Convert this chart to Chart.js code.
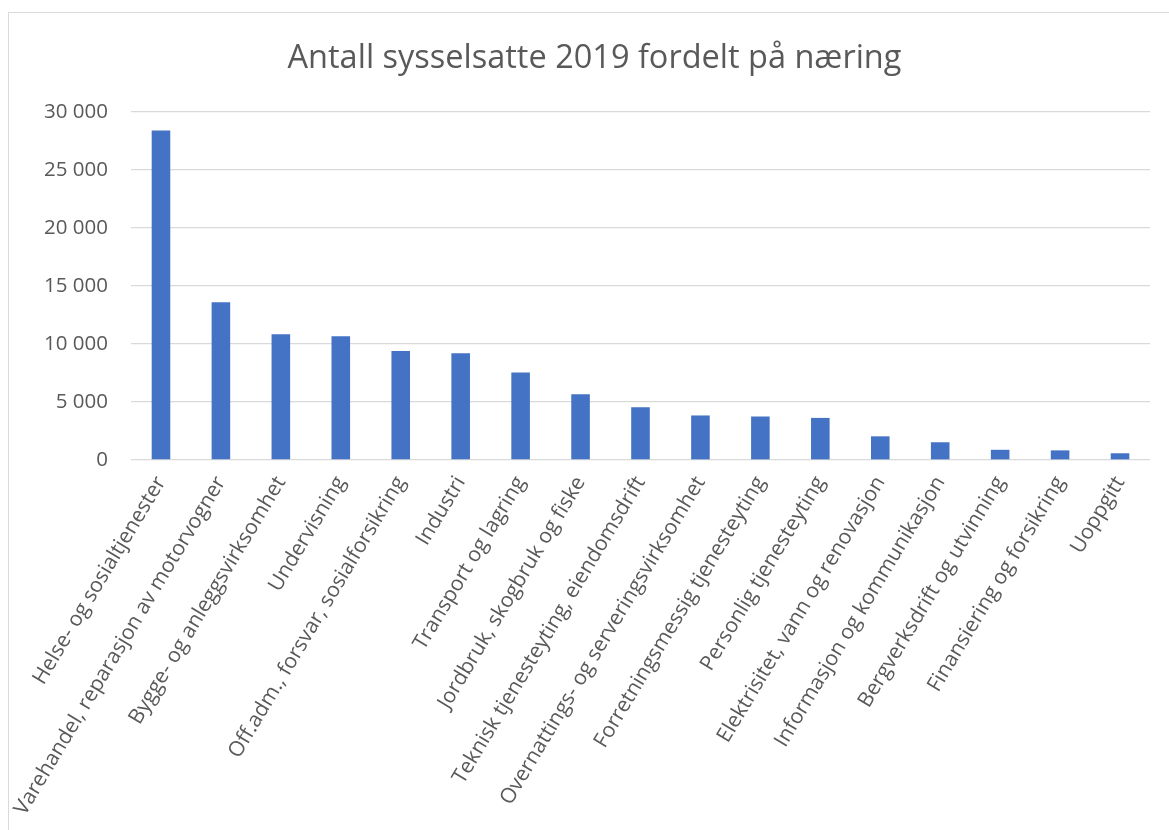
<!DOCTYPE html>
<html>
<head>
<meta charset="utf-8">
<script src="https://cdn.jsdelivr.net/npm/chart.js@4"></script>
<style>
  html, body { margin: 0; padding: 0; background: #fff; }
  #wrap { position: relative; width: 1169px; height: 830px; overflow: hidden; }
  #frame { position: absolute; left: 8px; top: 12px; right: -2px; bottom: -2px;
           border-top: 1.5px solid #d9d9d9; border-left: 1.5px solid #d9d9d9; }
  canvas { position: absolute; left: 0; top: 0; }
</style>
</head>
<body>
<div id="wrap">
  <div id="frame"></div>
  <canvas id="chart" width="1169" height="830"></canvas>
</div>
<script>
const titleText = 'Antall sysselsatte 2019 fordelt på næring';

const categories = [
  'Helse- og sosialtjenester',
  'Varehandel, reparasjon av motorvogner',
  'Bygge- og anleggsvirksomhet',
  'Undervisning',
  'Off.adm., forsvar, sosialforsikring',
  'Industri',
  'Transport og lagring',
  'Jordbruk, skogbruk og fiske',
  'Teknisk tjenesteyting, eiendomsdrift',
  'Overnattings- og serveringsvirksomhet',
  'Forretningsmessig tjenesteyting',
  'Personlig tjenesteyting',
  'Elektrisitet, vann og renovasjon',
  'Informasjon og kommunikasjon',
  'Bergverksdrift og utvinning',
  'Finansiering og forsikring',
  'Uoppgitt'
];

const employed = [28400, 13600, 10850, 10670, 9400, 9200, 7550, 5670, 4550, 3840, 3750, 3630, 2040, 1530, 880, 830, 580];

const yTicks = [0, 5000, 10000, 15000, 20000, 25000, 30000];

const grey = '#595959';
Chart.defaults.font.family = '"Open Sans", sans-serif';
Chart.defaults.color = grey;

function fmt(v) {
  return String(v).replace(/\B(?=(\d{3})+(?!\d))/g, ' ');
}

new Chart(document.getElementById('chart'), {
  type: 'bar',
  data: {
    labels: categories,
    datasets: [{
      data: employed,
      backgroundColor: '#4472c4',
      barPercentage: 0.31,
      categoryPercentage: 1
    }]
  },
  options: {
    responsive: false,
    animation: false,
    // left padding only nudges the title centre to where the original has it
    layout: { padding: { left: 39, right: 19, top: 0, bottom: 0 } },
    plugins: {
      legend: { display: false },
      tooltip: { enabled: false },
      title: {
        display: true,
        text: titleText,
        color: grey,
        font: { size: 32.5, weight: 'normal' },
        padding: { top: 39, bottom: 34 }
      }
    },
    scales: {
      x: {
        grid: { display: false },
        border: { display: false },
        ticks: {
          autoSkip: false,
          minRotation: 59,
          maxRotation: 59,
          padding: 4,
          font: { size: 21 }
        },
        afterFit: s => { s.height = 370; }
      },
      y: {
        min: 0,
        max: 30000,
        afterBuildTicks: s => { s.ticks = yTicks.map(v => ({ value: v })); },
        grid: { color: '#d9d9d9', lineWidth: 1.3, drawTicks: false },
        border: { display: false },
        ticks: {
          padding: 23,
          font: { size: 20.5 },
          callback: v => fmt(v)
        },
        afterFit: s => { s.width = 92; }
      }
    }
  }
});
</script>
</body>
</html>
